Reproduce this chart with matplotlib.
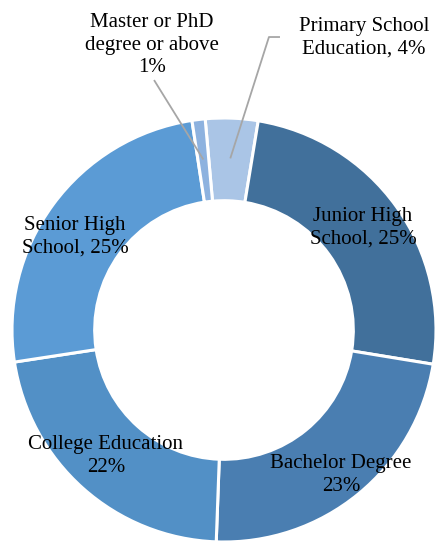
import numpy as np
import matplotlib
matplotlib.use("Agg")
import matplotlib.pyplot as plt

# Education level shares (%), clockwise starting just left of 12 o'clock
categories = ["Primary School Education", "Junior High School", "Bachelor Degree",
              "College Education", "Senior High School", "Master or PhD degree or above"]
shares = [4, 25, 23, 22, 25, 1]
label_texts = ["Primary School\nEducation, 4%", "Junior High\nSchool, 25%",
               "Bachelor Degree\n23%", "College Education\n22%",
               "Senior High\nSchool, 25%", "Master or PhD\ndegree or above\n1%"]

colors = ["#AAC5E6", "#41709B", "#4A7EB1", "#5290C6", "#5B9BD5", "#8DB2DF"]

# label centres (data units, donut radius = 1)
label_xy = [(0.66, 1.377), (0.656, 0.481), (0.552, -0.684),
            (-0.557, -0.594), (-0.703, 0.439), (-0.34, 1.344)]

fig = plt.figure(figsize=(4.38, 5.43), dpi=100)
ax = fig.add_axes([0, 0, 1, 1])

ring_width = 0.39
wedges, _ = ax.pie(shares, colors=colors, startangle=95.1, counterclock=False,
                   radius=1.0,
                   wedgeprops=dict(width=ring_width, edgecolor="white", linewidth=2.2))

ax.set_aspect("auto")
ax.set_xlim(-224 / 212, (438 - 224) / 212)
ax.set_ylim((330 - 543) / 212, 330 / 212)
ax.axis("off")

font = dict(family=["Liberation Serif", "DejaVu Serif"], fontsize=15, color="black")
for txt, (x, y) in zip(label_texts, label_xy):
    ax.text(x, y, txt, ha="center", va="center", linespacing=1.28, **font)

# leader lines for the two thin slices
def ring_point(w, r=0.81):
    ang = np.deg2rad((w.theta1 + w.theta2) / 2)
    return r * np.cos(ang), r * np.sin(ang)

line_kw = dict(color="#A6A6A6", linewidth=1.3, solid_capstyle="butt")
px, py = ring_point(wedges[0])
ax.plot([0.264, 0.212, px], [1.382, 1.382, py], **line_kw)
mx, my = ring_point(wedges[5])
ax.plot([-0.33, mx], [1.179, my], **line_kw)

fig.savefig("out.png", dpi=100)
